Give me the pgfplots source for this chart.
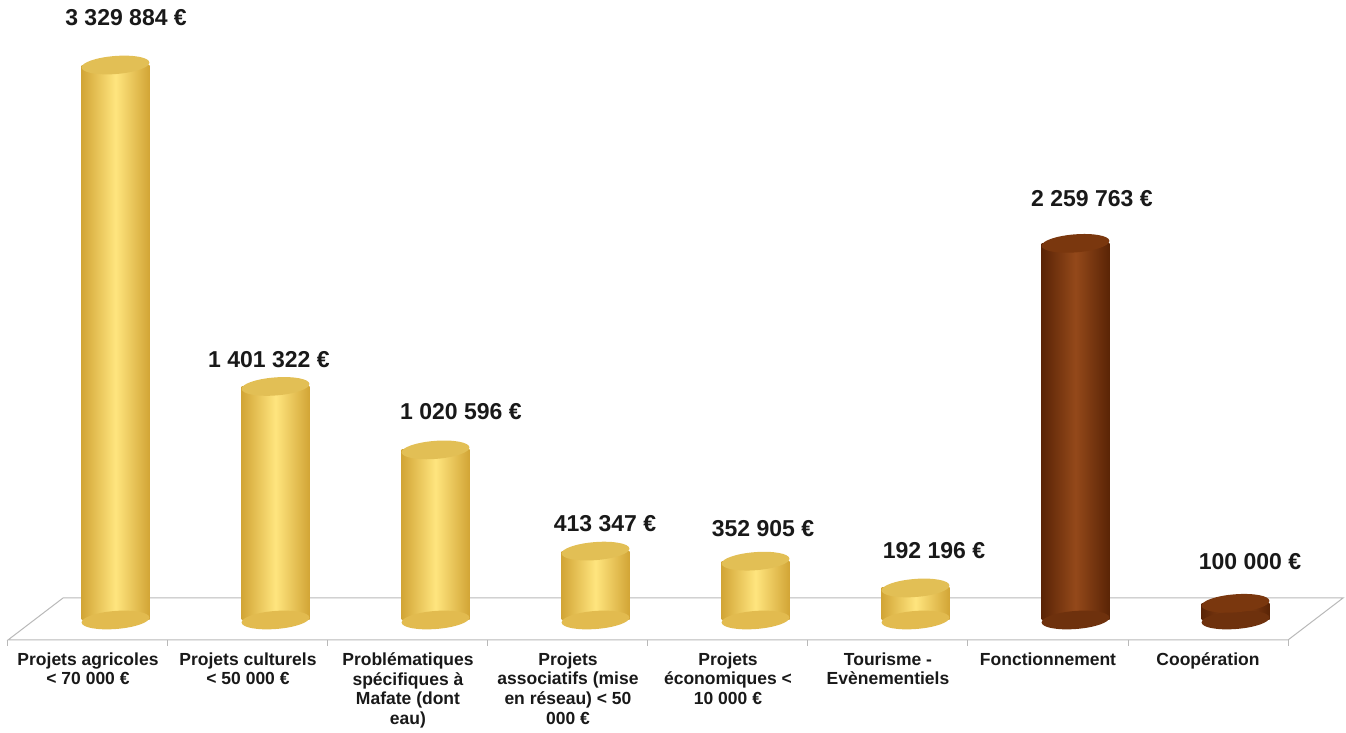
\documentclass[border=0pt]{standalone}
\usepackage{fontspec}
\setmainfont{Liberation Sans}
\usepackage{pgfplots}
\pgfplotsset{compat=1.18}
\definecolor{goldE}{HTML}{D2A536}
\definecolor{goldM}{HTML}{FFE57E}
\definecolor{goldT}{HTML}{E2BF55}
\definecolor{brE}{HTML}{5A2406}
\definecolor{brM}{HTML}{94491A}
\definecolor{brT}{HTML}{7A370E}
\pgfdeclareplotmark{cap}{%
  \pgfpathellipse{\pgfpointorigin}{\pgfqpoint{33.9pt}{2.6pt}}{\pgfqpoint{-0.7pt}{9pt}}%
  \pgfusepathqfill}
\pgfplotsset{
  goldbar/.style={ybar, bar width=0.425, bar shift=0pt, draw=none, left color=goldE, right color=goldE, middle color=goldM},
  brbar/.style={ybar, bar width=0.425, bar shift=0pt, draw=none, left color=brE, right color=brE, middle color=brM},
}
\begin{document}
\begin{tikzpicture}
\begin{axis}[
  scale only axis, width=1346pt, height=733pt,
  xmin=-0.7219, xmax=7.6906, ymin=-678000, ymax=3720000,
  axis line style={draw=none}, major tick style={draw=none},
  ytick=\empty,
  xtick={-0.172,0.828,1.828,2.828,3.828,4.828,5.828,6.828},
  xticklabels={{Projets agricoles\\< 70 000 €},{Projets culturels\\< 50 000 €},{Problématiques\\spécifiques à\\Mafate (dont\\eau)},{Projets\\associatifs (mise\\en réseau) < 50\\000 €},{Projets\\économiques <\\10 000 €},{Tourisme -\\Evènementiels},{Fonctionnement},{Coopération}},
  xticklabel style={font=\fontsize{17.5}{19.7}\selectfont\bfseries, align=center, anchor=north, yshift=84pt, text=black!90},
  clip=false,
]
% floor
\addplot[draw=gray!55, fill=white, line width=1pt] coordinates {(-0.672,-120000) (7.328,-120000) (7.672,132000) (-0.328,132000)} -- cycle;
\addplot[gray!55, line width=1pt, unbounded coords=jump] coordinates {
 (-0.672,-120000) (-0.672,-156000) (-0.672,nan)
 (0.328,-120000) (0.328,-156000) (0.328,nan)
 (1.328,-120000) (1.328,-156000) (1.328,nan)
 (2.328,-120000) (2.328,-156000) (2.328,nan)
 (3.328,-120000) (3.328,-156000) (3.328,nan)
 (4.328,-120000) (4.328,-156000) (4.328,nan)
 (5.328,-120000) (5.328,-156000) (5.328,nan)
 (6.328,-120000) (6.328,-156000) (6.328,nan)
 (7.328,-120000) (7.328,-156000)};
% bottom caps
\addplot[only marks, mark=cap, mark options={fill=goldE!65!goldM}] coordinates {(0,0) (1,0) (2,0) (3,0) (4,0) (5,0)};
\addplot[only marks, mark=cap, mark options={fill=brE!65!brM}] coordinates {(6,0) (7,0)};
% bars (one plot per bar so each cylinder is shaded on its own)
\addplot[goldbar] coordinates {(0,3329884)};
\addplot[goldbar] coordinates {(1,1401322)};
\addplot[goldbar] coordinates {(2,1020596)};
\addplot[goldbar] coordinates {(3,413347)};
\addplot[goldbar] coordinates {(4,352905)};
\addplot[goldbar] coordinates {(5,192196)};
\addplot[brbar] coordinates {(6,2259763)};
\addplot[brbar] coordinates {(7,100000)};
% top caps
\addplot[only marks, mark=cap, mark options={fill=goldT}] coordinates {(0,3329884) (1,1401322) (2,1020596) (3,413347) (4,352905) (5,192196)};
\addplot[only marks, mark=cap, mark options={fill=brT}] coordinates {(6,2259763) (7,100000)};
% value labels
\addplot[draw=none, nodes near coords, point meta=explicit symbolic,
  nodes near coords style={anchor=center, text=black!90, font=\fontsize{23}{27}\selectfont\bfseries}]
  coordinates {(0.066,3612000) [3 329 884 €] (0.959,1560000) [1 401 322 €] (2.159,1248000) [1 020 596 €]
   (3.059,576000) [413 347 €] (4.047,546000) [352 905 €] (5.116,414000) [192 196 €]
   (6.103,2526000) [2 259 763 €] (7.091,348000) [100 000 €]};
\end{axis}
\end{tikzpicture}
\end{document}
